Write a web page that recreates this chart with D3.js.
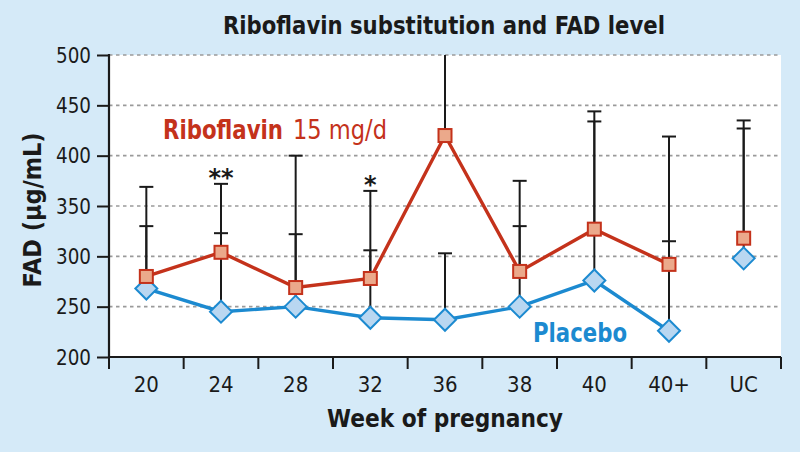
<!DOCTYPE html>
<html><head><meta charset="utf-8">
<script src="https://cdn.jsdelivr.net/npm/d3@7"></script>
<style>
html,body{margin:0;padding:0;background:#d5eaf8;}
svg{display:block;}
text{font-family:"DejaVu Sans Condensed","Liberation Sans Narrow","Open Sans",sans-serif;}
</style></head>
<body>
<svg id="chart" width="800" height="452"></svg>
<script>
const categories = ["20","24","28","32","36","38","40","40+","UC"];
const riboflavinMean = [280, 304, 269, 278, 420, 285, 327, 292, 318];
const riboflavinUpper = [369, 372, 400, 365, 540, 375, 444, 419, 435];
const placeboMean = [268, 245, 250, 239, 237, 250, 276, 226, 298];
const placeboUpper = [330, 323, 322, 306, 303, 330, 434, 315, 427];
const significance = [["24","**"],["32","*"]];
const yTicks = [200, 250, 300, 350, 400, 450, 500];

(function(){
const svg = d3.select("#chart");
const W = 800, H = 452;
const pL = 109, pR = 781, pT = 55, pB = 357;
const ink = "#1a1a1a";

svg.append("rect").attr("width", W).attr("height", H).attr("fill", "#d5eaf8");

const x = d3.scaleBand().domain(categories).range([pL, pR]).padding(0);
const y = d3.scaleLinear().domain([200, 500]).range([pB, pT]);
const cx = c => x(c) + x.bandwidth() / 2;

svg.append("rect").attr("x", pL).attr("y", pT).attr("width", pR - pL).attr("height", pB - pT).attr("fill", "#ffffff");

svg.append("clipPath").attr("id", "clip").append("rect")
  .attr("x", pL).attr("y", pT).attr("width", pR - pL).attr("height", pB - pT);

svg.append("g").selectAll("line").data(yTicks.filter(t => t > 200)).join("line")
  .attr("x1", pL).attr("x2", pR).attr("y1", d => y(d)).attr("y2", d => y(d))
  .attr("stroke", "#9a9a9a").attr("stroke-width", 1.6).attr("stroke-dasharray", "3.5,3.5");

svg.append("text").attr("x", 444).attr("y", 34).attr("text-anchor", "middle")
  .attr("font-size", 24).attr("font-weight", "bold").attr("fill", ink)
  .attr("textLength", 442).attr("lengthAdjust", "spacingAndGlyphs")
  .text("Riboflavin substitution and FAD level");

const yAxis = d3.axisLeft(y).tickValues(yTicks).tickSize(12).tickPadding(6);
const gy = svg.append("g").attr("transform", `translate(${pL},0)`).call(yAxis);
gy.select(".domain").attr("stroke", ink).attr("stroke-width", 2.2).attr("d", `M0,${pT - 1}V${pB}`);
gy.selectAll(".tick line").attr("stroke", ink).attr("stroke-width", 2);
gy.selectAll(".tick text").attr("font-size", 22).attr("fill", ink)
  .attr("textLength", 35).attr("lengthAdjust", "spacingAndGlyphs")
  .style("font-family", '"DejaVu Sans Condensed","Liberation Sans Narrow",sans-serif');

const gx = svg.append("g").attr("transform", `translate(0,${pB})`);
gx.append("line").attr("x1", pL).attr("x2", pR).attr("stroke", ink).attr("stroke-width", 2.2);
const bounds = categories.map(c => x(c)).concat([pR]);
gx.selectAll("line.bt").data(bounds).join("line").attr("class", "bt")
  .attr("x1", d => d).attr("x2", d => d).attr("y1", 0).attr("y2", 12)
  .attr("stroke", ink).attr("stroke-width", 2);
const xAxis = d3.axisBottom(x).tickSize(0).tickPadding(0);
const gxl = svg.append("g").attr("transform", `translate(0,${pB})`).call(xAxis);
gxl.select(".domain").remove();
gxl.selectAll(".tick text").attr("dy", 0).attr("y", 35).attr("font-size", 22).attr("fill", ink)
  .style("font-family", '"DejaVu Sans Condensed","Liberation Sans Narrow",sans-serif');

svg.append("text").attr("x", 445).attr("y", 427).attr("text-anchor", "middle")
  .attr("font-size", 25).attr("font-weight", "bold").attr("fill", ink)
  .attr("textLength", 236).attr("lengthAdjust", "spacingAndGlyphs").text("Week of pregnancy");
svg.append("text").attr("transform", "translate(41,210) rotate(-90)").attr("text-anchor", "middle")
  .attr("font-size", 24).attr("font-weight", "bold").attr("fill", ink)
  .attr("textLength", 155).attr("lengthAdjust", "spacingAndGlyphs").text("FAD (µg/mL)");

const plot = svg.append("g").attr("clip-path", "url(#clip)");

function errBars(means, uppers) {
  const g = plot.append("g");
  categories.forEach((c, i) => {
    g.append("line").attr("x1", cx(c)).attr("x2", cx(c)).attr("y1", y(means[i])).attr("y2", y(uppers[i]))
      .attr("stroke", ink).attr("stroke-width", 2);
    g.append("line").attr("x1", cx(c) - 7).attr("x2", cx(c) + 7).attr("y1", y(uppers[i])).attr("y2", y(uppers[i]))
      .attr("stroke", ink).attr("stroke-width", 2);
  });
}
errBars(riboflavinMean, riboflavinUpper);
errBars(placeboMean, placeboUpper);

const lineGen = d3.line().x(d => cx(d.c)).y(d => y(d.v));
const connected = categories.slice(0, 8);
const blueColor = "#1c8ad0", redColor = "#c4321b";
svg.append("path").datum(connected.map((c, i) => ({c, v: placeboMean[i]})))
  .attr("d", lineGen).attr("fill", "none").attr("stroke", blueColor).attr("stroke-width", 3.4);
svg.append("path").datum(connected.map((c, i) => ({c, v: riboflavinMean[i]})))
  .attr("d", lineGen).attr("fill", "none").attr("stroke", redColor).attr("stroke-width", 3.4);

const dsz = 11;
svg.append("g").selectAll("path").data(categories.map((c, i) => ({c, v: placeboMean[i]}))).join("path")
  .attr("d", d => `M${cx(d.c)},${y(d.v) - dsz}L${cx(d.c) + dsz},${y(d.v)}L${cx(d.c)},${y(d.v) + dsz}L${cx(d.c) - dsz},${y(d.v)}Z`)
  .attr("fill", "#b9d7f1").attr("stroke", blueColor).attr("stroke-width", 2);
const ssz = 13;
svg.append("g").selectAll("rect").data(categories.map((c, i) => ({c, v: riboflavinMean[i]}))).join("rect")
  .attr("x", d => cx(d.c) - ssz / 2).attr("y", d => y(d.v) - ssz / 2).attr("width", ssz).attr("height", ssz)
  .attr("fill", "#eba98b").attr("stroke", redColor).attr("stroke-width", 2);

svg.append("g").selectAll("text").data(significance).join("text")
  .attr("x", d => cx(d[0])).attr("y", d => y(riboflavinUpper[categories.indexOf(d[0])]) + 2).attr("text-anchor", "middle")
  .attr("font-size", 24).attr("font-weight", "bold").attr("fill", ink)
  .style("font-family", '"DejaVu Sans",sans-serif').text(d => d[1]);

svg.append("text").attr("x", 163).attr("y", 139).attr("font-size", 26).attr("font-weight", "bold").attr("fill", redColor)
  .attr("textLength", 120).attr("lengthAdjust", "spacingAndGlyphs").text("Riboflavin");
svg.append("text").attr("x", 293).attr("y", 139).attr("font-size", 26).attr("fill", redColor)
  .attr("textLength", 94).attr("lengthAdjust", "spacingAndGlyphs").text("15 mg/d");
svg.append("text").attr("x", 533).attr("y", 342).attr("font-size", 26).attr("font-weight", "bold")
  .attr("fill", blueColor).attr("textLength", 94).attr("lengthAdjust", "spacingAndGlyphs").text("Placebo");
})();
</script>
</body></html>
